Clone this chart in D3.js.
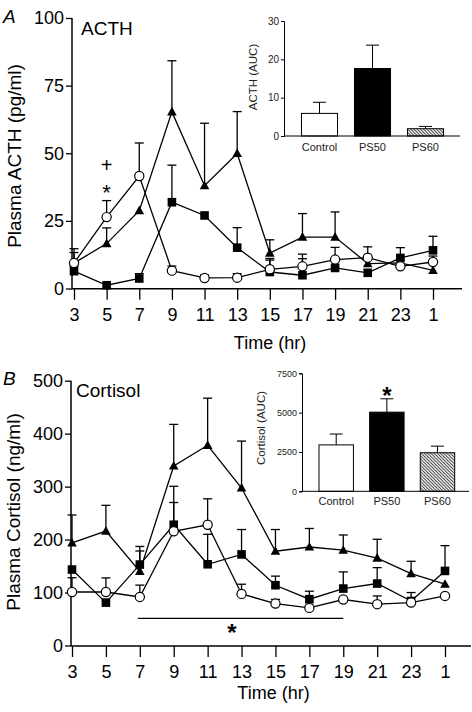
<!DOCTYPE html>
<html><head><meta charset="utf-8">
<script src="https://cdn.jsdelivr.net/npm/d3@7"></script>
<style>html,body{margin:0;padding:0;background:#fff;}svg{display:block;font-family:"Liberation Sans",Arial,Helvetica,sans-serif;}</style>
</head><body>
<script>
// ---------- data ----------
const times = ["3","5","7","9","11","13","15","17","19","21","23","1"];
const acthTicks = [0,25,50,75,100];
const cortTicks = [0,100,200,300,400,500];

// ACTH (pg/ml)
const acthControl    = [9.4, 26.4, 41.6, 6.6, 3.9, 4.0, 7.1, 8.2, 10.7, 11.4, 8.2, 9.8];
const acthControlCap = [13.3, 32.5, 53.8, 8.3, 5.0, 5.5, 11.1, 12.7, 15.2, 15.4, 10.5, 12.0];
const acthSquare     = [6.4, 1.2, 3.7, 31.9, 27.0, 15.1, 6.1, 4.9, 7.6, 5.8, 11.3, 14.1];
const acthSquareCap  = [null, null, 5.5, 45.6, null, 22.5, 10.5, 11.0, null, null, 15.1, 19.3];
const acthTriangle   = [9.4, 16.6, 28.8, 65.3, 38.0, 49.9, 13.1, 19.0, 19.0, 9.2, 9.5, 6.7];
const acthTriangleCap= [14.7, 22.4, null, 84.2, 61.1, 65.4, 18.0, 27.7, 28.3, null, null, null];

// Cortisol (ng/ml)
const cortControl    = [101, 101, 91.7, 215.7, 228, 97.4, 79.2, 71, 86.8, 78, 81, 93.6];
const cortControlCap = [128, 127.6, 114, 270, 277, 115.7, 87, null, null, 93.6, null, null];
const cortSquare     = [143.4, 81, 152.8, 228, 153.4, 172, 113.8, 87.4, 107.5, 117, 84, 140.8];
const cortSquareCap  = [null, null, 187, 300.6, 210, 219, 131, 102.5, 139, 147, 100, 188.6];
const cortTriangle   = [193.6, 216, 140, 339, 378, 297.4, 178, 186, 180, 165, 135.8, 115.7];
const cortTriangleCap= [246.4, 264.7, 178.5, 417.5, 467, 386, 219, 221, 208.7, 200.6, 159, null];

// Insets (AUC)
const groups = ["Control","PS50","PS60"];
const acthAUC = [5.9, 17.6, 1.9];
const acthAUCCap = [8.8, 23.7, 2.5];
const acthAUCTicks = [0,10,20,30];
const cortAUC = [2950, 5030, 2450];
const cortAUCCap = [3640, 5880, 2870];
const cortAUCTicks = [0,2500,5000,7500];

// ---------- drawing ----------
const W = 472, H = 712;
const svg = d3.select("body").append("svg").attr("width", W).attr("height", H);
const defs = svg.append("defs");
const pat = defs.append("pattern").attr("id","hatch").attr("patternUnits","userSpaceOnUse")
  .attr("width",3.2).attr("height",3.2);
pat.append("rect").attr("width",3.2).attr("height",3.2).attr("fill","#fff");
pat.append("path").attr("d","M-1,-1 L4.2,4.2 M-1,2.2 L1,4.2 M2.2,-1 L4.2,1").attr("stroke","#222").attr("stroke-width",0.9);

function panel(cfg){
  const g = svg.append("g");
  const x = d3.scalePoint().domain(times).range(cfg.xRange);
  const y = d3.scaleLinear().domain([0, cfg.yMax]).range(cfg.yRange);
  // axes
  g.append("line").attr("x1", cfg.axisX).attr("x2", cfg.xEnd).attr("y1", cfg.axisY).attr("y2", cfg.axisY)
    .attr("stroke","#000").attr("stroke-width",1.5);
  g.append("line").attr("x1", cfg.axisX).attr("x2", cfg.axisX).attr("y1", y(cfg.yMax)).attr("y2", cfg.axisY)
    .attr("stroke","#000").attr("stroke-width",1.5);
  const xa = g.append("g").attr("transform",`translate(0,${cfg.axisY})`)
    .call(d3.axisBottom(x).tickSize(11).tickPadding(8));
  xa.select(".domain").remove();
  xa.selectAll("line").attr("stroke-width",1.3);
  xa.selectAll("text").attr("font-size",18).attr("font-family",'"Liberation Sans",Arial,sans-serif').attr("fill","#000");
  const ya = g.append("g").attr("transform",`translate(${cfg.axisX},0)`)
    .call(d3.axisLeft(y).tickValues(cfg.yTicks).tickSize(6).tickPadding(2));
  ya.select(".domain").remove();
  ya.selectAll("line").attr("stroke-width",1.3);
  ya.selectAll("text").attr("font-size",18).attr("font-family",'"Liberation Sans",Arial,sans-serif').attr("fill","#000");

  // titles
  g.append("text").attr("x", (cfg.xRange[0]+cfg.xEnd)/2 + 2).attr("y", cfg.timeY).attr("text-anchor","middle")
    .attr("font-size",18).text("Time (hr)");
  g.append("text").attr("transform",`translate(${cfg.ylabX},${cfg.ylabY}) rotate(-90)`).attr("text-anchor","middle")
    .attr("font-size",cfg.ylabSize).text(cfg.ylab);
  g.append("text").attr("x",3).attr("y",cfg.letterY).attr("font-size",19).attr("font-style","italic").text(cfg.letter);
  g.append("text").attr("x",cfg.nameX).attr("y",cfg.nameY).attr("font-size",19).text(cfg.name);

  const series = [
    {v: cfg.tri, cap: cfg.triCap, m: "tri"},
    {v: cfg.sq, cap: cfg.sqCap, m: "sq"},
    {v: cfg.ctl, cap: cfg.ctlCap, m: "circ"}
  ];
  const line = d3.line().x((d,i)=>x(times[i])).y(d=>y(d));
  series.forEach(s=>{
    g.append("path").attr("d", line(s.v)).attr("fill","none").attr("stroke","#000").attr("stroke-width",1.3);
  });
  series.forEach(s=>{
    s.cap.forEach((c,i)=>{
      if(c==null) return;
      const cx = x(times[i]);
      g.append("line").attr("x1",cx).attr("x2",cx).attr("y1",y(s.v[i])).attr("y2",y(c)).attr("stroke","#000").attr("stroke-width",1.3);
      g.append("line").attr("x1",cx-4.5).attr("x2",cx+4.5).attr("y1",y(c)).attr("y2",y(c)).attr("stroke","#000").attr("stroke-width",1.3);
    });
  });
  series.forEach(s=>{
    s.v.forEach((v,i)=>{
      const cx = x(times[i]), cy = y(v);
      if(s.m==="circ") g.append("circle").attr("cx",cx).attr("cy",cy).attr("r",4.6).attr("fill","#fff").attr("stroke","#000").attr("stroke-width",1.2);
      else if(s.m==="sq") g.append("rect").attr("x",cx-4.3).attr("y",cy-4.3).attr("width",8.6).attr("height",8.6).attr("fill","#000");
      else g.append("path").attr("d",`M${cx},${cy-5} L${cx+4.8},${cy+3.6} L${cx-4.8},${cy+3.6}Z`).attr("fill","#000");
    });
  });
  return {x, y, g};
}

const A = panel({
  xRange:[74,433], xEnd:462, axisX:72, axisY:288.8, yMax:100, yRange:[288.5,18], yTicks:acthTicks,
  timeY:349, ylab:"Plasma ACTH (pg/ml)", ylabX:21, ylabY:156, ylabSize:19,
  letter:"A", letterY:23, name:"ACTH", nameX:81, nameY:35,
  ctl:acthControl, ctlCap:acthControlCap, sq:acthSquare, sqCap:acthSquareCap, tri:acthTriangle, triCap:acthTriangleCap
});
// significance marks panel A
A.g.append("text").attr("x",A.x("5")).attr("y",172).attr("text-anchor","middle").attr("font-size",20).text("+");
A.g.append("text").attr("x",A.x("5")).attr("y",200).attr("text-anchor","middle").attr("font-size",22).text("*");

const B = panel({
  xRange:[72,445], xEnd:471, axisX:71, axisY:646, yMax:500, yRange:[645.5,380.7], yTicks:cortTicks,
  timeY:699, ylab:"Plasma Cortisol (ng/ml)", ylabX:20, ylabY:512, ylabSize:19,
  letter:"B", letterY:385, name:"Cortisol", nameX:76, nameY:397,
  ctl:cortControl, ctlCap:cortControlCap, sq:cortSquare, sqCap:cortSquareCap, tri:cortTriangle, triCap:cortTriangleCap
});
B.g.append("line").attr("x1",B.x("7")-2).attr("x2",B.x("19")).attr("y1",618.3).attr("y2",618.3).attr("stroke","#000").attr("stroke-width",1.3);
B.g.append("text").attr("x",232).attr("y",641).attr("text-anchor","middle").attr("font-size",24).attr("font-weight","bold").text("*");

// ---------- insets ----------
function inset(cfg){
  const g = svg.append("g");
  const x = d3.scaleBand().domain(groups).range(cfg.xRange).paddingInner(0.32).paddingOuter(0);
  const y = d3.scaleLinear().domain([0, cfg.yMax]).range(cfg.yRange);
  const fills = ["#fff","#000","url(#hatch)"];
  g.selectAll("rect.bar").data(cfg.vals).enter().append("rect")
    .attr("x",(d,i)=>x(groups[i])).attr("width",x.bandwidth())
    .attr("y",d=>y(d)).attr("height",d=>y(0)-y(d))
    .attr("fill",(d,i)=>fills[i]).attr("stroke","#000").attr("stroke-width",1);
  cfg.caps.forEach((c,i)=>{
    const cx = x(groups[i]) + x.bandwidth()/2;
    g.append("line").attr("x1",cx).attr("x2",cx).attr("y1",y(cfg.vals[i])).attr("y2",y(c)).attr("stroke","#000").attr("stroke-width",1);
    g.append("line").attr("x1",cx-6.5).attr("x2",cx+6.5).attr("y1",y(c)).attr("y2",y(c)).attr("stroke","#000").attr("stroke-width",1);
  });
  g.append("line").attr("x1",cfg.axisX).attr("x2",cfg.xEnd).attr("y1",y(0)).attr("y2",y(0)).attr("stroke","#000").attr("stroke-width",1);
  const ya = g.append("g").attr("transform",`translate(${cfg.axisX},0)`)
    .call(d3.axisLeft(y).tickValues(cfg.ticks).tickSize(3).tickPadding(2).tickFormat(d3.format("d")));
  ya.select(".domain").attr("stroke-width",1);
  ya.selectAll("text").attr("font-size",cfg.tickSize).attr("font-family",'"Liberation Sans",Arial,sans-serif').attr("fill","#222");
  groups.forEach((gr,i)=>{
    g.append("text").attr("x",x(gr)+x.bandwidth()/2).attr("y",cfg.catY).attr("text-anchor","middle")
      .attr("font-size",11).attr("fill","#222").text(gr);
  });
  g.append("text").attr("transform",`translate(${cfg.ylabX},${cfg.ylabY}) rotate(-90)`).attr("text-anchor","middle")
    .attr("font-size",11.5).attr("fill","#222").text(cfg.ylab);
  return {x,y,g};
}
inset({xRange:[301.5,443.5], yRange:[136,21], yMax:30, axisX:284, xEnd:460, vals:acthAUC, caps:acthAUCCap,
  ticks:acthAUCTicks, tickSize:10, catY:151, ylab:"ACTH (AUC)", ylabX:257, ylabY:77});
const IB = inset({xRange:[319,454.7], yRange:[491.3,373.3], yMax:7500, axisX:302, xEnd:469, vals:cortAUC, caps:cortAUCCap,
  ticks:cortAUCTicks, tickSize:9, catY:505, ylab:"Cortisol (AUC)", ylabX:265, ylabY:428});
IB.g.append("text").attr("x",IB.x("PS50")+IB.x.bandwidth()/2).attr("y",404).attr("text-anchor","middle")
  .attr("font-size",24).attr("font-weight","bold").text("*");
</script>
</body></html>
